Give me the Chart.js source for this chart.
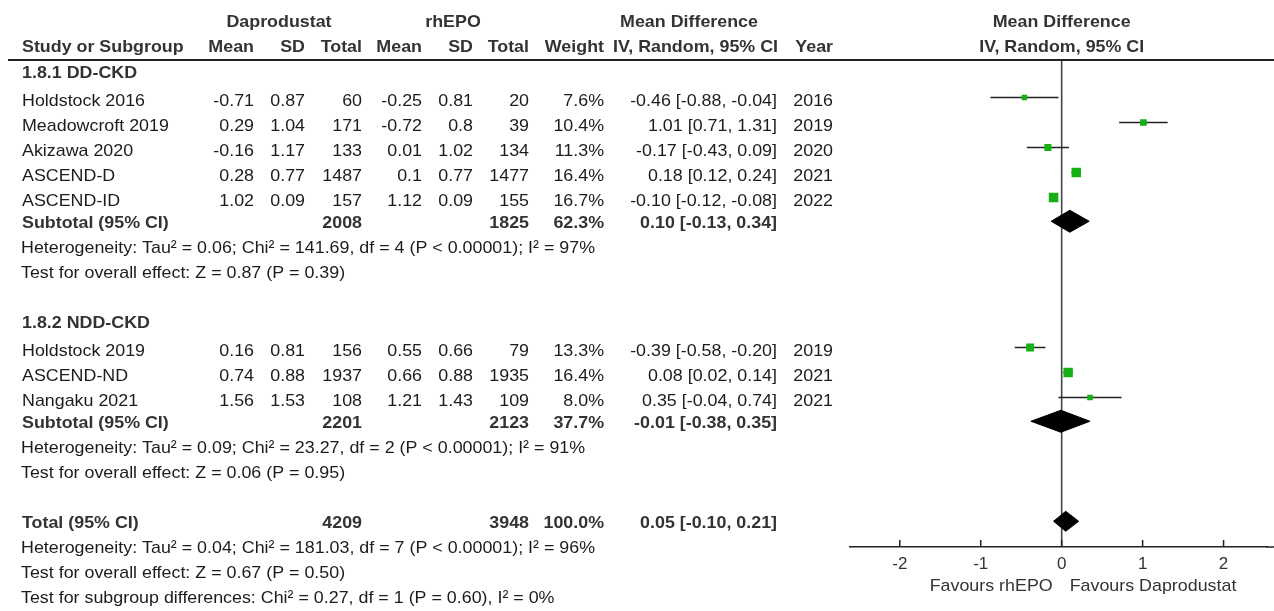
<!DOCTYPE html>
<html>
<head>
<meta charset="utf-8">
<script src="https://cdn.jsdelivr.net/npm/chart.js@4.4.1/dist/chart.umd.min.js"></script>
<style>
  html, body { margin: 0; padding: 0; background: #fff; }
  canvas { display: block; }
</style>
</head>
<body>
<canvas id="forest" width="1274" height="611"></canvas>
<script>
// Study level data
const studies = ['Holdstock 2016', 'Meadowcroft 2019', 'Akizawa 2020', 'ASCEND-D', 'ASCEND-ID', 'Holdstock 2019', 'ASCEND-ND', 'Nangaku 2021'];
const dapMean = [-0.71, 0.29, -0.16, 0.28, 1.02, 0.16, 0.74, 1.56];
const dapSD = [0.87, 1.04, 1.17, 0.77, 0.09, 0.81, 0.88, 1.53];
const dapN = [60, 171, 133, 1487, 157, 156, 1937, 108];
const epoMean = [-0.25, -0.72, 0.01, 0.1, 1.12, 0.55, 0.66, 1.21];
const epoSD = [0.81, 0.8, 1.02, 0.77, 0.09, 0.66, 0.88, 1.43];
const epoN = [20, 39, 134, 1477, 155, 79, 1935, 109];
const weight = [7.6, 10.4, 11.3, 16.4, 16.7, 13.3, 16.4, 8.0];
const md = [-0.46, 1.01, -0.17, 0.18, -0.10, -0.39, 0.08, 0.35];
const ciLow = [-0.88, 0.71, -0.43, 0.12, -0.12, -0.58, 0.02, -0.04];
const ciHigh = [-0.04, 1.31, 0.09, 0.24, -0.08, -0.20, 0.14, 0.74];
const years = [2016, 2019, 2020, 2021, 2022, 2019, 2021, 2021];

// Subgroups
const groups = ['1.8.1 DD-CKD', '1.8.2 NDD-CKD'];
const subDapN = [2008, 2201];
const subEpoN = [1825, 2123];
const subWeight = [62.3, 37.7];
const subEst = [0.10, -0.01];
const subLow = [-0.13, -0.38];
const subHigh = [0.34, 0.35];
const subStats = [
    ['Heterogeneity: Tau\u00b2 = 0.06; Chi\u00b2 = 141.69, df = 4 (P < 0.00001); I\u00b2 = 97%',
     'Test for overall effect: Z = 0.87 (P = 0.39)'],
    ['Heterogeneity: Tau\u00b2 = 0.09; Chi\u00b2 = 23.27, df = 2 (P < 0.00001); I\u00b2 = 91%',
     'Test for overall effect: Z = 0.06 (P = 0.95)']
];

// Overall
const totalDapN = 4209;
const totalEpoN = 3948;
const totalWeight = 100.0;
const totalEst = 0.05;
const totalLow = -0.10;
const totalHigh = 0.21;
const totalStats = [
    'Heterogeneity: Tau\u00b2 = 0.04; Chi\u00b2 = 181.03, df = 7 (P < 0.00001); I\u00b2 = 96%',
    'Test for overall effect: Z = 0.67 (P = 0.50)',
    'Test for subgroup differences: Chi\u00b2 = 0.27, df = 1 (P = 0.60), I\u00b2 = 0%'
];

const xTicks = [-2, -1, 0, 1, 2];

// Layout: row units below the header rule (25px per row)
const studyRows = [1.5, 2.5, 3.5, 4.5, 5.5, 11.5, 12.5, 13.5];
const groupRows = [0.5, 10.5];
const subtotalRows = [6.45, 14.45];
const subStatRows = [[7.5, 8.5], [15.5, 16.5]];
const totalRow = 18.45;
const totalStatRows = [19.5, 20.5, 21.5];
const Y_MAX = 19.48;

const GREEN = '#14b014';
const FONT = '"Liberation Sans", Arial, sans-serif';
const FS = 17;
const SX = 1.05;

const fmt = v => v.toFixed(2);
const ciText = (e, l, h) => `${fmt(e)} [${fmt(l)}, ${fmt(h)}]`;

function diamond(est, lo, hi, row, h) {
    return [{x: lo, y: row}, {x: est, y: row - h}, {x: hi, y: row}, {x: est, y: row + h}, {x: lo, y: row}];
}

// Datasets (first one is drawn on top)
const datasets = [];
datasets.push({
    label: 'studies',
    data: md.map((v, i) => ({x: v, y: studyRows[i]})),
    pointStyle: 'rect',
    pointRadius: weight.map(w => (2 + w * 0.45) / Math.SQRT2),
    backgroundColor: GREEN,
    borderWidth: 0
});
md.forEach((v, i) => {
    datasets.push({
        type: 'line',
        data: [{x: ciLow[i], y: studyRows[i]}, {x: ciHigh[i], y: studyRows[i]}],
        borderColor: '#222',
        borderWidth: 1.6,
        pointRadius: 0,
        fill: false
    });
});
subEst.forEach((v, i) => {
    datasets.push({
        type: 'line',
        data: diamond(v, subLow[i], subHigh[i], subtotalRows[i], 0.44),
        borderColor: '#000',
        backgroundColor: '#000',
        borderWidth: 1,
        borderJoinStyle: 'miter',
        pointRadius: 0,
        fill: 'shape'
    });
});
datasets.push({
    type: 'line',
    data: diamond(totalEst, totalLow, totalHigh, totalRow, 0.4),
    borderColor: '#000',
    backgroundColor: '#000',
    borderWidth: 1,
    borderJoinStyle: 'miter',
    pointRadius: 0,
    fill: 'shape'
});
// line of no effect
datasets.push({
    type: 'line',
    data: [{x: 0, y: 0}, {x: 0, y: Y_MAX}],
    borderColor: '#444',
    borderWidth: 1.6,
    pointRadius: 0,
    fill: false
});

function txt(ctx, s, x, y, align, bold, size, color) {
    ctx.save();
    ctx.font = (bold ? 'bold ' : '') + (size || FS) + 'px ' + FONT;
    ctx.fillStyle = color || (bold ? '#333' : '#1c1c1c');
    ctx.textAlign = align;
    ctx.textBaseline = 'middle';
    ctx.translate(x, y);
    ctx.scale(SX, 1);
    ctx.fillText(s, 0, 0);
    ctx.restore();
}

// right edges of the table columns
const col = {name: 22, dapMean: 254, dapSD: 305, dapN: 362, epoMean: 422, epoSD: 473, epoN: 529, weight: 604, ci: 777, year: 833};

const tablePlugin = {
    id: 'forestTable',
    afterDraw(chart) {
        const ctx = chart.ctx;
        const ys = chart.scales.y;
        const xs = chart.scales.x;
        const py = r => ys.getPixelForValue(r);
        const zero = xs.getPixelForValue(0);

        // header rule
        ctx.save();
        ctx.strokeStyle = '#222';
        ctx.lineWidth = 2;
        ctx.beginPath();
        ctx.moveTo(8, py(0));
        ctx.lineTo(chart.width, py(0));
        ctx.stroke();

        // carry the axis line to the right edge, then inward tick marks
        ctx.lineWidth = 1.5;
        ctx.beginPath();
        ctx.moveTo(xs.right - 1, xs.top);
        ctx.lineTo(chart.width, xs.top);
        xTicks.forEach(v => {
            const px = xs.getPixelForValue(v);
            ctx.moveTo(px, xs.top - 7);
            ctx.lineTo(px, xs.top);
        });
        ctx.stroke();
        ctx.restore();

        // headers
        const h1 = py(-1.5), h2 = py(-0.5);
        txt(ctx, 'Daprodustat', 279, h1, 'center', true);
        txt(ctx, 'rhEPO', 453, h1, 'center', true);
        txt(ctx, 'Mean Difference', 689, h1, 'center', true);
        txt(ctx, 'Mean Difference', zero, h1, 'center', true);
        txt(ctx, 'Study or Subgroup', col.name, h2, 'left', true);
        txt(ctx, 'Mean', col.dapMean, h2, 'right', true);
        txt(ctx, 'SD', col.dapSD, h2, 'right', true);
        txt(ctx, 'Total', col.dapN, h2, 'right', true);
        txt(ctx, 'Mean', col.epoMean, h2, 'right', true);
        txt(ctx, 'SD', col.epoSD, h2, 'right', true);
        txt(ctx, 'Total', col.epoN, h2, 'right', true);
        txt(ctx, 'Weight', col.weight, h2, 'right', true);
        txt(ctx, 'IV, Random, 95% CI', col.ci + 1, h2, 'right', true);
        txt(ctx, 'Year', col.year, h2, 'right', true);
        txt(ctx, 'IV, Random, 95% CI', zero, h2, 'center', true);

        // study rows
        studies.forEach((s, i) => {
            const y = py(studyRows[i]) + 4;
            txt(ctx, s, col.name, y, 'left');
            txt(ctx, String(dapMean[i]), col.dapMean, y, 'right');
            txt(ctx, String(dapSD[i]), col.dapSD, y, 'right');
            txt(ctx, String(dapN[i]), col.dapN, y, 'right');
            txt(ctx, String(epoMean[i]), col.epoMean, y, 'right');
            txt(ctx, String(epoSD[i]), col.epoSD, y, 'right');
            txt(ctx, String(epoN[i]), col.epoN, y, 'right');
            txt(ctx, weight[i].toFixed(1) + '%', col.weight, y, 'right');
            txt(ctx, ciText(md[i], ciLow[i], ciHigh[i]), col.ci, y, 'right');
            txt(ctx, String(years[i]), col.year, y, 'right');
        });

        // subgroups
        groups.forEach((g, i) => {
            txt(ctx, g, col.name, py(groupRows[i]) + 1, 'left', true);
            const y = py(subtotalRows[i]) + 2;
            txt(ctx, 'Subtotal (95% CI)', col.name, y, 'left', true);
            txt(ctx, String(subDapN[i]), col.dapN, y, 'right', true);
            txt(ctx, String(subEpoN[i]), col.epoN, y, 'right', true);
            txt(ctx, subWeight[i].toFixed(1) + '%', col.weight, y, 'right', true);
            txt(ctx, ciText(subEst[i], subLow[i], subHigh[i]), col.ci, y, 'right', true);
            subStats[i].forEach((s, k) => txt(ctx, s, 21, py(subStatRows[i][k]) + 1, 'left'));
        });

        // overall
        const ty = py(totalRow) + 2;
        txt(ctx, 'Total (95% CI)', col.name, ty, 'left', true);
        txt(ctx, String(totalDapN), col.dapN, ty, 'right', true);
        txt(ctx, String(totalEpoN), col.epoN, ty, 'right', true);
        txt(ctx, totalWeight.toFixed(1) + '%', col.weight, ty, 'right', true);
        txt(ctx, ciText(totalEst, totalLow, totalHigh), col.ci, ty, 'right', true);
        totalStats.forEach((s, k) => txt(ctx, s, 21, py(totalStatRows[k]) + 1, 'left'));

        // favours labels
        const fy = py(21.0) + 1;
        txt(ctx, 'Favours rhEPO', zero - 9, fy, 'right', false, 17, '#333');
        txt(ctx, 'Favours Daprodustat', zero + 8, fy, 'left', false, 17, '#333');
    }
};

const chart = new Chart(document.getElementById('forest').getContext('2d'), {
    type: 'scatter',
    data: {datasets: datasets},
    options: {
        responsive: false,
        animation: false,
        devicePixelRatio: 1,
        layout: {padding: {left: 850, top: 60, right: 0, bottom: 0}},
        plugins: {
            legend: {display: false},
            tooltip: {enabled: false}
        },
        scales: {
            x: {
                type: 'linear',
                min: -2.615,
                max: 2.54,
                position: 'bottom',
                grid: {display: false, drawTicks: false},
                border: {display: true, color: '#222', width: 1.5},
                afterBuildTicks: scale => { scale.ticks = xTicks.map(v => ({value: v})); },
                afterFit: scale => { scale.height = 64; },
                ticks: {
                    font: {family: FONT, size: 17},
                    color: '#333',
                    padding: 7,
                    callback: v => String(v)
                }
            },
            y: {
                type: 'linear',
                min: 0,
                max: Y_MAX,
                reverse: true,
                display: false
            }
        }
    },
    plugins: [tablePlugin]
});
</script>
</body>
</html>
